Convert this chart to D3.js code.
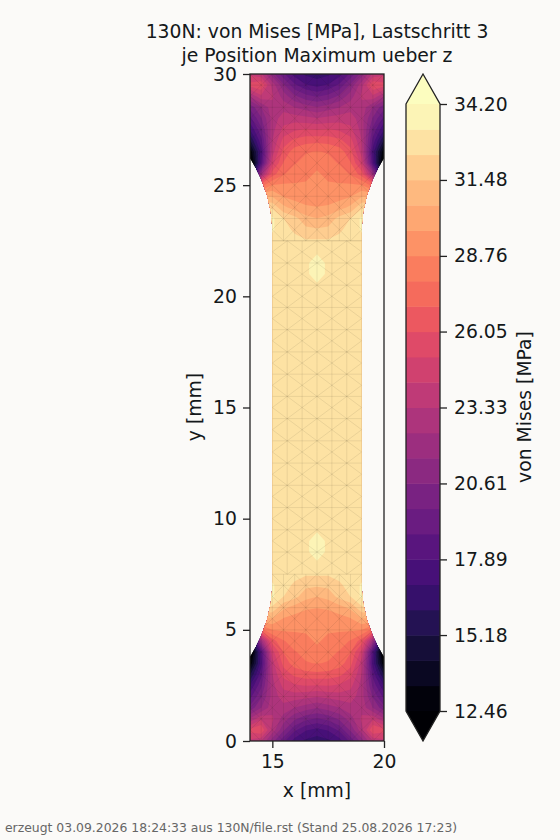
<!DOCTYPE html>
<html><head><meta charset="utf-8">
<script src="https://cdn.jsdelivr.net/npm/d3@7"></script>
<style>html,body{margin:0;padding:0;background:#fbfaf8}svg{display:block}text{font-family:"DejaVu Sans";fill:#14181a}</style>
</head><body><svg id="c" width="560" height="840"></svg>
<script>
const titleLines = ["130N: von Mises [MPa], Lastschritt 3", "je Position Maximum ueber z"];
const footer = "erzeugt 03.09.2026 18:24:33 aus 130N/file.rst (Stand 25.08.2026 17:23)";
const xTicks = [15, 20];
const yTicks = [0, 5, 10, 15, 20, 25, 30];
const cbarTicks = [12.46, 15.18, 17.89, 20.61, 23.33, 26.05, 28.76, 31.48, 34.20];
const vMin = 12.46, vMax = 34.20, bandCount = 24;
const gridX = [14, 14.5, 15, 15.5, 16, 16.5, 17];
const gridYEnd = [0,.5,1,1.5,2,2.5,3,3.5,4,4.5,5,5.5,6,6.5,7,7.5,8,8.5,9,9.5,10];
const endRows = [
 [24.0,23.5,21.0,19.0,17.5,16.8,16.5],
 [25.5,26.0,23.0,20.8,19.0,18.0,17.6],
 [22.5,24.0,23.5,22.0,20.8,20.0,19.6],
 [20.0,21.5,23.0,23.0,22.4,22.0,21.6],
 [18.5,20.5,22.8,23.8,23.8,23.6,23.4],
 [17.0,19.5,23.0,24.5,25.0,25.2,25.1],
 [15.0,18.5,23.3,25.5,26.3,26.6,26.7],
 [12.5,17.5,23.8,26.4,27.4,27.8,27.9],
 [11.0,18.0,24.8,27.0,27.8,28.1,28.5],
 [14.0,22.0,26.5,27.8,28.2,28.5,28.9],
 [20.0,27.5,28.8,28.9,28.9,28.9,29.0],
 [28.0,30.5,30.5,29.6,29.3,29.2,29.2],
 [32.0,32.6,32.2,30.8,30.2,29.8,29.7],
 [33.0,33.5,33.5,32.4,31.8,30.9,30.6],
 [33.0,33.4,33.4,32.8,32.2,31.7,31.6],
 [33.0,33.3,33.0,32.9,32.7,32.5,32.5],
 [32.9,33.0,33.0,33.0,32.9,32.9,33.1],
 [32.8,32.8,32.8,32.8,32.8,33.0,34.0],
 [32.8,32.8,32.8,32.8,32.8,33.0,34.0],
 [32.8,32.8,32.8,32.8,32.8,32.8,33.1],
 [32.8,32.8,32.8,32.8,32.8,32.8,32.8]
];
const waistValue = 32.8;
const edgeY = [3.5, 3.8, 4.2, 4.68, 5.0, 5.44, 6.2, 6.9, 7.5];
const edgeX = [13.9, 14.0, 14.25, 14.48, 14.6, 14.76, 14.93, 15.0, 15.0];
const waistMeshX = [15, 15.667, 16.333, 17, 17.667, 18.333, 19];
const endMeshX = [14,14.5,15,15.5,16,16.5,17,17.5,18,18.5,19,19.5,20];

const svg = d3.select("#c");
const x = d3.scaleLinear().domain([14, 20]).range([250, 384]);
const y = d3.scaleLinear().domain([0, 30]).range([741, 74]);
const cy = d3.scaleLinear().domain([vMin, vMax]).range([711, 104]);
const bandColor = t => d3.interpolateMagma(t);

// full grid
const nx = gridX.length * 2 - 1, stepX = 0.5, stepY = 0.5, ny = 61;
const values = new Array(nx * ny);
for (let j = 0; j < ny; j++) {
  const m = Math.min(j, ny - 1 - j);
  const row = m < endRows.length ? endRows[m] : null;
  for (let i = 0; i < nx; i++) {
    const k = Math.min(i, nx - 1 - i);
    values[j * nx + i] = row ? row[k] : waistValue;
  }
}
const thresholds = d3.range(bandCount + 1).map(i => vMin + (vMax - vMin) * i / bandCount);
const contours = d3.contours().size([nx, ny]).thresholds(thresholds)(values);
const proj = d3.geoTransform({point(px, py) {
  this.stream.point(x(14 + (px - 0.5) * stepX), y((py - 0.5) * stepY));
}});
const path = d3.geoPath(proj);

// outline
const bl = edgeY.map((v, i) => [edgeX[i], v]);
const left = [[13.9, 0], ...bl, ...bl.slice().reverse().map(d => [d[0], 30 - d[1]]), [13.9, 30]];
const right = left.slice().reverse().map(d => [34 - d[0], d[1]]);
const line = d3.line().x(d => x(d[0])).y(d => y(d[1])).curve(d3.curveLinear);
const defs = svg.append("defs");
defs.append("clipPath").attr("id", "shape").append("path").attr("d", line([...left, ...right]) + "Z");
defs.append("clipPath").attr("id", "axes").append("rect")
  .attr("x", x(14)).attr("y", y(30)).attr("width", x(20) - x(14)).attr("height", y(0) - y(30));

const plot = svg.append("g").attr("clip-path", "url(#axes)").append("g").attr("clip-path", "url(#shape)");
plot.append("rect").attr("x", 240).attr("y", 60).attr("width", 160).attr("height", 700).attr("fill", bandColor(0));
plot.selectAll("path.band").data(contours).join("path").attr("class", "band")
  .attr("d", path)
  .attr("fill", (d, i) => i >= bandCount ? bandColor(1) : bandColor((i + 0.5) / bandCount));

// mesh
const mesh = plot.append("g").attr("fill", "none").attr("stroke", "rgba(40,30,20,0.15)").attr("stroke-width", 0.6);
function drawMesh(xs, y0, y1, dy) {
  const ys = d3.range(y0, y1 + 1e-6, dy);
  const segs = [];
  xs.forEach((a, i) => ys.forEach((b, j) => {
    if (j + 1 < ys.length) segs.push([[a, b], [a, ys[j + 1]]]);
    if (i + 1 < xs.length && j % 2 === 0) segs.push([[a, b], [xs[i + 1], b]]);
    if (i + 1 < xs.length && j + 1 < ys.length) {
      if ((i + j) % 2) segs.push([[a, b], [xs[i + 1], ys[j + 1]]]);
      else segs.push([[xs[i + 1], b], [a, ys[j + 1]]]);
    }
  }));
  mesh.selectAll(null).data(segs).join("path").attr("d", d3.line().x(d => x(d[0])).y(d => y(d[1])));
}
drawMesh(endMeshX, 0, 7.5, 0.5);
drawMesh(waistMeshX, 7.5, 22.5, 0.5);
drawMesh(endMeshX, 22.5, 30, 0.5);

// axes
const AX = "#222";
svg.append("rect").attr("x", x(14)).attr("y", y(30)).attr("width", x(20) - x(14)).attr("height", y(0) - y(30))
  .attr("fill", "none").attr("stroke", AX).attr("stroke-width", 1.3);
const fs = 18.8;
const gx = svg.append("g").attr("transform", `translate(0,${y(0)})`).call(d3.axisBottom(x).tickValues(xTicks).tickSize(7).tickPadding(7).tickFormat(d3.format("d")));
const gy = svg.append("g").attr("transform", `translate(${x(14)},0)`).call(d3.axisLeft(y).tickValues(yTicks).tickSize(7).tickPadding(6).tickFormat(d3.format("d")));
[gx, gy].forEach(g => { g.select(".domain").remove(); g.selectAll("line").attr("stroke", AX).attr("stroke-width", 1.3); g.selectAll("text").attr("font-size", fs).attr("font-family", "DejaVu Sans").attr("fill", "#14181a"); });

svg.selectAll("text.t").data(titleLines).join("text").attr("class", "t").attr("x", 317).attr("y", (d, i) => 38 + i * 24)
  .attr("text-anchor", "middle").attr("font-size", fs).text(d => d);
svg.append("text").attr("x", 317).attr("y", 797).attr("text-anchor", "middle").attr("font-size", fs).text("x [mm]");
svg.append("text").attr("transform", "translate(201,407) rotate(-90)").attr("text-anchor", "middle").attr("font-size", fs).text("y [mm]");
svg.append("text").attr("x", 5).attr("y", 832).attr("font-size", 12.4).style("fill", "#666").text(footer);

// colour bar
const cb = svg.append("g");
const bx0 = 406, bx1 = 440, bxm = 423;
const bands = d3.range(bandCount);
cb.selectAll("rect").data(bands).join("rect").attr("x", bx0).attr("width", bx1 - bx0)
  .attr("y", i => cy(thresholds[i + 1])).attr("height", i => cy(thresholds[i]) - cy(thresholds[i + 1]) + 0.5)
  .attr("fill", i => bandColor((i + 0.5) / bandCount));
cb.append("path").attr("d", `M${bx0},${cy(vMax)}L${bxm},${y(30)}L${bx1},${cy(vMax)}Z`).attr("fill", bandColor(1));
cb.append("path").attr("d", `M${bx0},${cy(vMin)}L${bxm},${y(0)}L${bx1},${cy(vMin)}Z`).attr("fill", bandColor(0));
cb.append("path").attr("d", `M${bx0},${cy(vMax)}L${bxm},${y(30)}L${bx1},${cy(vMax)}V${cy(vMin)}L${bxm},${y(0)}L${bx0},${cy(vMin)}Z`)
  .attr("fill", "none").attr("stroke", AX).attr("stroke-width", 1.3);
const gc = svg.append("g").attr("transform", `translate(${bx1},0)`).call(d3.axisRight(cy).tickValues(cbarTicks).tickSize(7).tickPadding(7).tickFormat(d3.format(".2f")));
gc.select(".domain").remove();
gc.selectAll("line").attr("stroke", AX).attr("stroke-width", 1.3);
gc.selectAll("text").attr("font-size", fs).attr("font-family", "DejaVu Sans").attr("fill", "#14181a");
svg.append("text").attr("transform", "translate(531,407) rotate(-90)").attr("text-anchor", "middle").attr("font-size", fs).text("von Mises [MPa]");
</script></body></html>
